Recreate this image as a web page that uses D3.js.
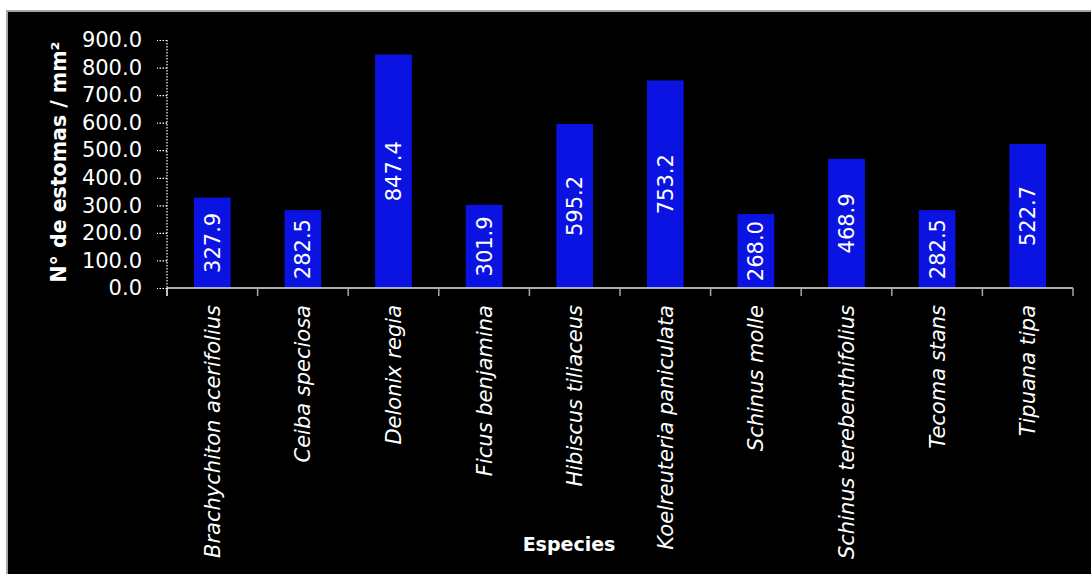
<!DOCTYPE html>
<html>
<head>
<meta charset="utf-8">
<script src="https://cdn.jsdelivr.net/npm/d3@7"></script>
<style>
html,body{margin:0;padding:0;background:#fff;}
svg{display:block;}
</style>
</head>
<body>
<svg id="chart" width="1091" height="574"></svg>
<script>
const categories = ["Brachychiton acerifolius","Ceiba speciosa","Delonix regia","Ficus benjamina","Hibiscus tiliaceus","Koelreuteria paniculata","Schinus molle","Schinus terebenthifolius","Tecoma stans","Tipuana tipa"];
const values = [327.9, 282.5, 847.4, 301.9, 595.2, 753.2, 268.0, 468.9, 282.5, 522.7];
const yTicks = [0,100,200,300,400,500,600,700,800,900];
const yTitle = "N° de estomas / mm²";
const xTitle = "Especies";

const svg = d3.select("#chart");
const FONT = "DejaVu Sans";
const pLeft = 167, pRight = 1073, pTop = 40, pBottom = 288;

svg.append("rect").attr("x",7).attr("y",11).attr("width",1100).attr("height",600)
  .attr("fill","#000").attr("stroke","#a6a6a6").attr("stroke-width",2);

const x = d3.scaleBand().domain(categories).range([pLeft,pRight]).paddingInner(0.595).paddingOuter(0.2975);
const xb = d3.scaleBand().domain(categories).range([pLeft,pRight]);
const y = d3.scaleLinear().domain([0,900]).range([pBottom,pTop]);

// bars
svg.append("g").selectAll("rect").data(values).join("rect")
  .attr("x",(d,i)=>x(categories[i]))
  .attr("width",x.bandwidth())
  .attr("y",d=>y(d))
  .attr("height",d=>y(0)-y(d))
  .attr("fill","#0b13e3");

// value labels
svg.append("g").selectAll("text").data(values).join("text")
  .attr("transform",(d,i)=>`translate(${x(categories[i])+x.bandwidth()/2},${(y(d)+y(0))/2}) rotate(-90)`)
  .attr("text-anchor","middle").attr("dy","0.36em")
  .attr("fill","#fff").attr("font-family",FONT).attr("font-size",21)
  .text(d=>d.toFixed(1));

// y axis
const ya = d3.axisLeft(y).tickValues(yTicks).tickFormat(d=>d3.format(".1f")(d)).tickSize(10).tickPadding(15);
const gy = svg.append("g").attr("transform",`translate(${pLeft},0)`).call(ya);
gy.select(".domain").attr("stroke","#fff").attr("stroke-dasharray","1.5,1.5").attr("stroke-width",1.2).attr("d",`M0,${pTop}V${pBottom}`);
gy.selectAll(".tick line").attr("stroke","#fff").attr("stroke-dasharray","1.5,1.5").attr("stroke-width",1.2);
gy.selectAll(".tick text").attr("fill","#fff").attr("font-family",FONT).attr("font-size",21);

// x axis
const xa = d3.axisBottom(xb).tickSize(0).tickFormat("");
const gx = svg.append("g").attr("transform",`translate(0,${pBottom})`).call(xa);
gx.select(".domain").attr("stroke","#e6e6e6").attr("stroke-width",1.5).attr("d",`M${pLeft},0H${pRight}`);
const bounds = categories.map(c=>xb(c)).concat([pRight]);
gx.selectAll("line.sep").data(bounds).join("line").attr("class","sep")
  .attr("x1",d=>d).attr("x2",d=>d).attr("y1",0).attr("y2",8)
  .attr("stroke",(d,i)=>i===0?"#fff":"#a6a6a6").attr("stroke-width",1.5);

// category labels
svg.append("g").selectAll("text").data(categories).join("text")
  .attr("transform",d=>`translate(${xb(d)+xb.bandwidth()/2},305) rotate(-90)`)
  .attr("text-anchor","end").attr("dy","0.36em")
  .attr("fill","#fff").attr("font-family",FONT).attr("font-style","italic").attr("font-size",21)
  .text(d=>d);

// titles
svg.append("text").attr("transform","translate(59,162) rotate(-90)")
  .attr("text-anchor","middle").attr("dy","0.36em")
  .attr("fill","#fff").attr("font-family",FONT).attr("font-weight","bold").attr("font-size",20.5)
  .text(yTitle);
svg.append("text").attr("x",569).attr("y",551)
  .attr("text-anchor","middle")
  .attr("fill","#fff").attr("font-family",FONT).attr("font-weight","bold").attr("font-size",19)
  .text(xTitle);
</script>
</body>
</html>
